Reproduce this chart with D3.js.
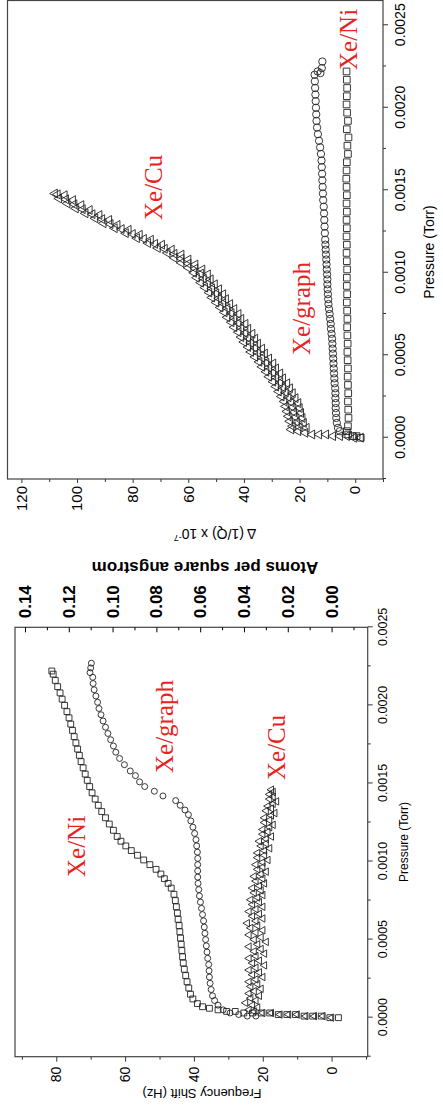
<!DOCTYPE html>
<html>
<head>
<meta charset="utf-8">
<script src="https://cdn.jsdelivr.net/npm/d3@7"></script>
<style>
  html, body { margin: 0; padding: 0; background: #fff; }
  svg { display: block; }
  .tick text { font-family: "Liberation Sans", Arial, sans-serif; fill: #000; }
  .ttl { font-family: "Liberation Sans", Arial, sans-serif; fill: #000; }
  .lbl { font-family: "Liberation Serif", "Times New Roman", serif; fill: #e8231f; font-size: 25px; }
</style>
</head>
<body>
<div id="chart"></div>
<script>
// upper panel: delta(1/Q) x 1e-7 against pressure (Torr)
const qNi = [[0, -2], [0.00001, -0.5], [0.00001, 1], [0.00002, 2.5], [0.00004, 3], [0.00007, 2.6], [0.00012, 2.4], [0.00017, 2.5], [0.00022, 2.6], [0.00027, 2.5], [0.00032, 2.6], [0.00037, 2.7], [0.00042, 2.6], [0.00047, 2.7], [0.00052, 2.8], [0.00057, 2.7], [0.00062, 2.8], [0.00067, 2.9], [0.00072, 2.8], [0.00077, 2.9], [0.00082, 3.0], [0.00087, 2.9], [0.00092, 3.0], [0.00097, 3.0], [0.00102, 2.9], [0.00107, 3.0], [0.00112, 3.1], [0.00117, 3.0], [0.00122, 3.1], [0.00127, 3.0], [0.00132, 3.1], [0.00137, 3.0], [0.00142, 3.1], [0.00147, 3.0], [0.00152, 3.1], [0.00157, 3.2], [0.00162, 3.1], [0.00167, 3.0], [0.00172, 2.6], [0.00177, 2.8], [0.00182, 2.4], [0.00187, 3.0], [0.00192, 2.6], [0.00197, 2.9], [0.00202, 3.1], [0.00207, 3.0], [0.00212, 2.9], [0.00217, 3.0], [0.00222, 3.1]];
const qGraph = [[0.00004, 5.5], [0.00006, 6.2], [0.00009, 6.6], [0.00012, 6.8], [0.00015, 6.9], [0.00018, 7.0], [0.00021, 7.0], [0.00024, 7.1], [0.00027, 7.1], [0.0003, 7.2], [0.00033, 7.4], [0.00036, 7.5], [0.00039, 7.6], [0.00042, 7.7], [0.00045, 7.8], [0.00048, 7.9], [0.00051, 8.0], [0.00054, 8.1], [0.00057, 8.2], [0.0006, 8.3], [0.00063, 8.5], [0.00066, 8.7], [0.00069, 8.8], [0.00072, 9.0], [0.00075, 9.2], [0.00078, 9.4], [0.00081, 9.6], [0.00084, 9.7], [0.00087, 9.8], [0.0009, 9.9], [0.00093, 10], [0.00096, 10], [0.00099, 10.1], [0.00102, 10.2], [0.00105, 10.3], [0.00108, 10.4], [0.00111, 10.5], [0.00114, 10.6], [0.00117, 10.7], [0.0012, 10.8], [0.00124, 10.9], [0.00128, 11.0], [0.00132, 11.1], [0.00136, 11.2], [0.0014, 11.3], [0.00144, 11.5], [0.00148, 11.6], [0.00152, 11.7], [0.00156, 11.8], [0.0016, 11.9], [0.00164, 12.0], [0.00168, 12.1], [0.00172, 12.3], [0.00176, 12.6], [0.0018, 13.0], [0.00184, 13.4], [0.00188, 13.7], [0.00192, 13.9], [0.00196, 14.0], [0.002, 14.1], [0.00204, 14.2], [0.00208, 14.3], [0.00212, 14.4], [0.00216, 14.5], [0.0022, 14.6], [0.00222, 13.5], [0.00221, 12.5], [0.00224, 12.0], [0.00228, 11.8]];
const qCu = [[0, -2], [0, 0.5], [0.00001, 3], [0.00001, 5.5], [0.00001, 8], [0.00002, 10.5], [0.00002, 13], [0.00002, 15.5], [0.00003, 18], [0.00004, 20.5], [0.00005, 23],
  [0.00006, 17.5], [0.000065, 20], [0.00007, 22.5], [0.00009, 18.5], [0.000095, 21], [0.0001, 23.5], [0.00012, 19], [0.000125, 21.5], [0.00013, 24],
  [0.00015, 19.5], [0.000155, 22], [0.00016, 24.5], [0.00018, 20], [0.000185, 22.5], [0.00019, 25], [0.00021, 20.5], [0.000215, 23], [0.00022, 25.5],
  [0.00024, 21.5], [0.000245, 24], [0.00025, 26.5], [0.00027, 22.5], [0.000275, 25], [0.00028, 27.5], [0.0003, 23.5], [0.000305, 26], [0.00031, 28.5],
  [0.00033, 24.5], [0.000335, 27], [0.00034, 29.5], [0.00036, 26], [0.000365, 28.5], [0.00037, 31], [0.00039, 27], [0.000395, 29.5], [0.0004, 32],
  [0.00042, 28.5], [0.000425, 31], [0.00043, 33.5], [0.00045, 29.5], [0.000455, 32], [0.00046, 34.5], [0.00048, 31], [0.000485, 33.5], [0.00049, 36],
  [0.00051, 32.5], [0.000515, 35], [0.00052, 37.5], [0.00054, 33.5], [0.000545, 36], [0.00055, 38.5], [0.00057, 35], [0.000575, 37.5], [0.00058, 40],
  [0.0006, 36], [0.000605, 38.5], [0.00061, 41], [0.00063, 37], [0.000635, 39.5], [0.00064, 42], [0.00066, 38.5], [0.000665, 41], [0.00067, 43.5],
  [0.00069, 39.5], [0.000695, 42], [0.0007, 44.5], [0.00072, 41], [0.000725, 43.5], [0.00073, 46], [0.00075, 42], [0.000755, 44.5], [0.00076, 47],
  [0.00078, 43.5], [0.000785, 46], [0.00079, 48.5], [0.00081, 45], [0.000815, 47.5], [0.00082, 50], [0.00084, 46.5], [0.000845, 49], [0.00085, 51.5],
  [0.00087, 47.5], [0.000875, 50], [0.00088, 52.5], [0.0009, 49], [0.000905, 51.5], [0.00091, 54], [0.00093, 50.5], [0.000935, 53], [0.00094, 55.5],
  [0.00096, 52], [0.000965, 54.5], [0.00097, 57], [0.00099, 53], [0.000995, 55.5], [0.001, 58], [0.00102, 55], [0.001025, 57.5], [0.00103, 60],
  [0.00105, 57.5], [0.001055, 60], [0.00106, 62.5], [0.00108, 60], [0.001085, 62.5], [0.00109, 65], [0.00111, 62.5], [0.001115, 65], [0.00112, 67.5],
  [0.00114, 66], [0.001145, 68.5], [0.00115, 71], [0.00117, 69.5], [0.001175, 72], [0.00118, 74.5], [0.0012, 73.5], [0.001205, 76], [0.00121, 78.5],
  [0.00123, 77.5], [0.001235, 80], [0.00124, 82.5], [0.00126, 81.5], [0.001265, 84], [0.00127, 86.5], [0.00129, 85.5], [0.001295, 88], [0.0013, 90.5],
  [0.00132, 88.5], [0.001325, 91], [0.00133, 93.5], [0.00135, 92], [0.001355, 94.5], [0.00136, 97], [0.00138, 95.5], [0.001385, 98], [0.00139, 100.5],
  [0.00141, 98.5], [0.001415, 101], [0.00142, 103.5], [0.00144, 101.5], [0.001445, 104], [0.00145, 106.5], [0.00147, 104.5], [0.001475, 107], [0.00148, 108]];

// lower panel: frequency shift (Hz) against pressure (Torr)
const fNi = [[0, -2], [0, 0.5], [0.00001, 3], [0.00001, 5.5], [0.00001, 8], [0.00002, 10.5], [0.00002, 13], [0.00002, 15.5], [0.00003, 18], [0.00003, 20.5], [0.00003, 23], [0.00003, 25.5], [0.00004, 28], [0.00004, 30.5], [0.00005, 33], [0.00006, 35.5], [0.00007, 37.5], [0.00009, 39], [0.00012, 40.3], [0.00015, 41], [0.00019, 41.5], [0.00023, 42], [0.00027, 42.4], [0.00031, 42.8], [0.00035, 43.1], [0.00039, 43.3], [0.00043, 43.5], [0.00047, 43.7], [0.00051, 43.9], [0.00055, 44.1], [0.00059, 44.3], [0.00063, 44.6], [0.00067, 44.8], [0.00071, 45.1], [0.00075, 45.4], [0.00079, 45.8], [0.00083, 46.6], [0.00086, 47.5], [0.00089, 48.6], [0.00092, 49.6], [0.00095, 51], [0.00098, 52.8], [0.00101, 54.6], [0.00104, 56.4], [0.00107, 58.2], [0.0011, 59.8], [0.00113, 61.2], [0.00116, 62.3], [0.0012, 63.4], [0.00124, 64.6], [0.00128, 65.7], [0.00132, 66.8], [0.00136, 67.8], [0.0014, 68.7], [0.00144, 69.6], [0.00148, 70.3], [0.00152, 71], [0.00156, 71.6], [0.0016, 72.2], [0.00164, 72.8], [0.00168, 73.3], [0.00172, 73.8], [0.00176, 74.3], [0.0018, 74.8], [0.00184, 75.3], [0.00188, 75.8], [0.00192, 76.3], [0.00196, 76.9], [0.002, 77.6], [0.00204, 78.3], [0.00208, 78.9], [0.00212, 79.6], [0.00216, 80.3], [0.0022, 80.9], [0.00222, 81.3]];
const fGraph = [[0.00001, 22], [0.00001, 24.5], [0.00002, 27], [0.00003, 29.5], [0.00005, 31.5], [0.00008, 33], [0.00011, 34], [0.00014, 34.6], [0.00018, 35], [0.00022, 35.3], [0.00026, 35.5], [0.0003, 35.6], [0.00034, 35.7], [0.00038, 36], [0.00042, 36.2], [0.00046, 36.4], [0.0005, 36.6], [0.00054, 36.8], [0.00058, 37], [0.00062, 37.2], [0.00066, 37.5], [0.0007, 37.8], [0.00074, 38.1], [0.00078, 38.4], [0.00082, 38.6], [0.00086, 38.8], [0.0009, 38.9], [0.00094, 38.9], [0.00098, 38.9], [0.00102, 38.9], [0.00106, 39], [0.0011, 39.2], [0.00114, 39.4], [0.00118, 39.8], [0.00122, 40.3], [0.00126, 40.9], [0.0013, 41.6], [0.00133, 42.6], [0.00136, 44], [0.00139, 45.3], [0.00142, 49], [0.00145, 51.5], [0.00148, 54.3], [0.00151, 55.8], [0.00155, 57], [0.00158, 58.5], [0.00162, 60.2], [0.00166, 61.6], [0.0017, 62.7], [0.00174, 63.4], [0.00178, 64.2], [0.00182, 65], [0.00186, 65.7], [0.0019, 66.4], [0.00194, 67], [0.00198, 67.6], [0.00202, 68], [0.00206, 68.5], [0.0021, 69], [0.00214, 69.3], [0.00218, 69.4], [0.00221, 70.2], [0.00224, 70], [0.00227, 69.8]];
const fCu = [[0, 0], [0.00001, 2.5], [0.00001, 5], [0.00001, 7.5], [0.00002, 10], [0.00002, 12.5], [0.00002, 15], [0.00003, 17.5], [0.00003, 20], [0.00004, 22.5],
  [0.00005, 24], [0.000065, 21.5], [0.00008, 23], [0.000095, 25], [0.00011, 22], [0.000125, 23.5], [0.00014, 21], [0.000155, 24], [0.00017, 22.5], [0.000185, 20.5],
  [0.0002, 23.5], [0.000215, 21.5], [0.00023, 24], [0.000245, 22], [0.00026, 20], [0.000275, 23], [0.00029, 21], [0.000305, 24], [0.00032, 22], [0.000335, 19.5],
  [0.00035, 23], [0.000365, 21], [0.00038, 24], [0.000395, 22], [0.00041, 19.5], [0.000425, 22.5], [0.00044, 20.5], [0.000455, 24], [0.00047, 21.5], [0.000485, 19],
  [0.0005, 22.5], [0.000515, 20.5], [0.00053, 24], [0.000545, 22], [0.00056, 20], [0.000575, 23.5], [0.00059, 21.5], [0.000605, 24.5], [0.00062, 22], [0.000635, 20],
  [0.00065, 23], [0.000665, 21], [0.00068, 24], [0.000695, 22], [0.00071, 20], [0.000725, 23], [0.00074, 21], [0.000755, 23.5], [0.00077, 21.5], [0.000785, 20],
  [0.0008, 22.5], [0.000815, 20.5], [0.00083, 23], [0.000845, 21], [0.00086, 19.5], [0.000875, 22], [0.00089, 20], [0.000905, 22.5], [0.00092, 20.5], [0.000935, 19],
  [0.00095, 21.5], [0.000965, 20], [0.00098, 22], [0.000995, 20], [0.00101, 18.5], [0.001025, 21.5], [0.00104, 19.5], [0.001055, 21.5], [0.00107, 19.5], [0.001085, 18],
  [0.0011, 20.5], [0.001115, 19], [0.00113, 21], [0.001145, 19], [0.00116, 17.5], [0.001175, 20], [0.00119, 18.5], [0.001205, 20], [0.00122, 18], [0.001235, 17],
  [0.00125, 19.5], [0.001265, 18], [0.00128, 19.5], [0.001295, 17.5], [0.00131, 16.5], [0.001325, 19], [0.00134, 17.5], [0.001355, 18.5], [0.00137, 17], [0.001385, 16],
  [0.0014, 18], [0.001415, 17], [0.00143, 18], [0.001445, 17], [0.00146, 17.5]];

const pTicks = [0, 0.0005, 0.001, 0.0015, 0.002, 0.0025];
const pMinor = [-0.00025, 0.00025, 0.00075, 0.00125, 0.00175, 0.00225];
const qTicks = [0, 20, 40, 60, 80, 100, 120];
const qMinor = [-10, 10, 30, 50, 70, 90, 110];
const fTicks = [0, 20, 40, 60, 80];
const fMinor = [-10, 10, 30, 50, 70, 90];
const atomTicks = [0, 0.02, 0.04, 0.06, 0.08, 0.1, 0.12, 0.14];
const atomMinor = [-0.01, 0.01, 0.03, 0.05, 0.07, 0.09, 0.11, 0.13];

const W = 443, H = 1110;
const svg = d3.select("#chart").append("svg").attr("width", W).attr("height", H);

// each panel is drawn upright in a group, then turned a quarter turn left
function panel(o) {
  const g = svg.append("g").attr("transform", `translate(${o.left},${o.base}) rotate(-90)`);
  const x = d3.scaleLinear().domain(o.pDomain).range([0, o.w]);
  const y = d3.scaleLinear().domain(o.vDomain).range([o.h, 0]);

  const clean = s => s.select(".domain").remove();

  g.append("g").attr("transform", `translate(0,${o.h})`)
    .call(d3.axisBottom(x).tickValues(pTicks).tickFormat(d3.format(".4f")).tickSize(5).tickPadding(o.pPad))
    .call(clean)
    .call(s => s.selectAll("text").style("font-size", o.pFont + "px"));
  g.append("g").attr("transform", `translate(0,${o.h})`)
    .call(d3.axisBottom(x).tickValues(pMinor).tickFormat("").tickSize(3))
    .call(clean);

  g.append("g")
    .call(d3.axisLeft(y).tickValues(o.vTicks).tickSize(o.vTick).tickPadding(o.vPad))
    .call(clean)
    .call(s => s.selectAll("text").style("font-size", o.vFont + "px"));
  g.append("g")
    .call(d3.axisLeft(y).tickValues(o.vMinor).tickFormat("").tickSize(3))
    .call(clean);

  g.selectAll(".tick line").attr("stroke", "#333");

  const marks = (data, type, size) => g.append("g").selectAll("path").data(data).join("path")
    .attr("transform", d => `translate(${x(d[0])},${y(d[1])})`)
    .attr("d", d3.symbol(type, size))
    .attr("fill", "none").attr("stroke", "#222").attr("stroke-width", 0.9);

  marks(o.cu, d3.symbolTriangle, o.triSize);
  marks(o.graph, d3.symbolCircle, o.cirSize);
  marks(o.ni, d3.symbolSquare, o.sqSize);

  g.append("rect").attr("width", o.w).attr("height", o.h)
    .attr("fill", "none").attr("stroke", "#444").attr("stroke-width", 1.2);

  g.append("text").attr("class", "ttl")
    .attr("x", o.pTitle[0]).attr("y", o.pTitle[1])
    .attr("text-anchor", "middle").style("font-size", o.pTitleFont + "px")
    .text("Pressure (Torr)");

  o.labels.forEach(l => g.append("text").attr("class", "lbl")
    .attr("x", l[1]).attr("y", l[2]).text(l[0]));

  return { g, x, y };
}

// upper panel
const upper = panel({
  left: 7.5, base: 479, w: 478.5, h: 375.5,
  pDomain: [-0.00025, 0.00265], vDomain: [-10, 125],
  vTicks: qTicks, vMinor: qMinor, vTick: 4, vPad: 3, vFont: 15,
  pPad: 7, pFont: 14, pTitle: [227, 426], pTitleFont: 14,
  ni: qNi, graph: qGraph, cu: qCu,
  triSize: 34, cirSize: 42, sqSize: 44,
  labels: [["Xe/Ni", 409, 349.5], ["Xe/Cu", 259, 154.5], ["Xe/graph", 124, 302.5]]
});

const qTitle = upper.g.append("text").attr("class", "ttl")
  .attr("transform", "translate(-50,207.5) rotate(-90)")
  .attr("text-anchor", "middle").style("font-size", "14px");
qTitle.append("tspan").text("\u0394 (1/Q) x 10");
qTitle.append("tspan").attr("dy", -6).style("font-size", "9px").text("-7");

// lower panel
const lower = panel({
  left: 15, base: 1056.7, w: 429.4, h: 352.7,
  pDomain: [-0.00025, 0.0025], vDomain: [-10.5, 92],
  vTicks: fTicks, vMinor: fMinor, vTick: 5, vPad: 5, vFont: 14,
  pPad: 5, pFont: 12.5, pTitle: [214.7, 393], pTitleFont: 12,
  ni: fNi, graph: fGraph, cu: fCu,
  triSize: 24, cirSize: 28, sqSize: 34,
  labels: [["Xe/Ni", 179.7, 70], ["Xe/graph", 283.7, 158], ["Xe/Cu", 276.7, 270]]
});

lower.g.append("text").attr("class", "ttl")
  .attr("transform", "translate(-32.3,187) rotate(-90)")
  .attr("text-anchor", "middle").style("font-size", "13px")
  .text("Frequency Shift (Hz)");

// atoms per square angstrom scale, tied to the frequency axis
const hzPerAtom = 89.1 / 0.14;
const atomScale = d3.scaleLinear()
  .domain([-10.5 / hzPerAtom, 92 / hzPerAtom])
  .range([352.7, 0]);

lower.g.append("g").attr("transform", "translate(429.4,0)")
  .call(d3.axisRight(atomScale).tickValues(atomTicks).tickFormat(d3.format(".2f")).tickSizeInner(-5).tickSizeOuter(0).tickPadding(9))
  .call(s => s.select(".domain").remove())
  .call(s => s.selectAll("text").style("font-size", "17px").style("font-weight", "bold"));
lower.g.append("g").attr("transform", "translate(429.4,0)")
  .call(d3.axisRight(atomScale).tickValues(atomMinor).tickFormat("").tickSizeInner(-3).tickSizeOuter(0))
  .call(s => s.select(".domain").remove());

lower.g.append("text").attr("class", "ttl")
  .attr("transform", "translate(494.7,190) rotate(-90)")
  .attr("text-anchor", "middle").style("font-size", "17px").style("font-weight", "bold")
  .text("Atoms per square angstrom");
</script>
</body>
</html>
